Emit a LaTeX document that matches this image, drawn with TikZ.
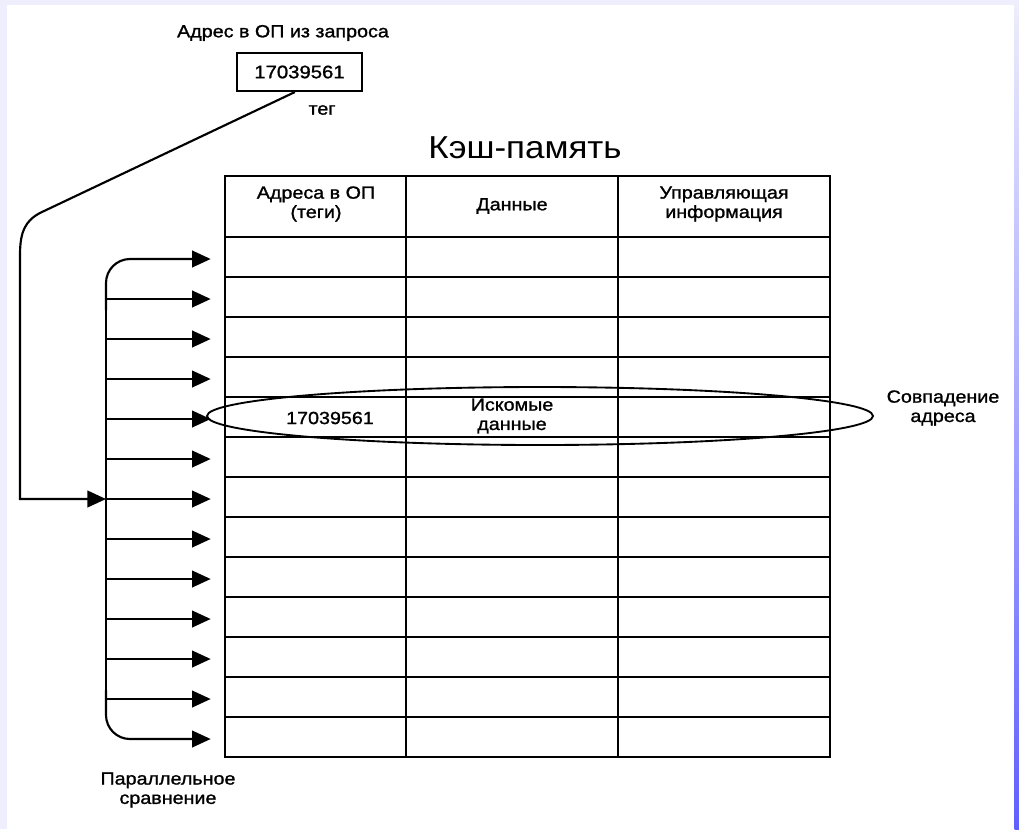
\documentclass[tikz,border=0pt]{standalone}
\usepackage{fontspec}
\setmainfont[FakeStretch=1.1]{Liberation Sans}
\newfontfamily\lblfont[FakeStretch=1.12, FakeBold=1.2]{Liberation Sans}
\usetikzlibrary{arrows.meta,shapes.geometric}

\definecolor{lav}{RGB}{238,238,252}
\definecolor{lavmid}{RGB}{222,222,255}
\definecolor{lavdeep}{RGB}{96,96,255}

\tikzset{
  lbl/.style={font=\lblfont\fontsize{13.2}{14.5}\selectfont, align=center, inner sep=0pt},
  title/.style={font=\fontsize{23.8}{27}\selectfont, inner sep=0pt},
  grid/.style={line width=2pt},
  cell/.style={draw, line width=2pt, minimum width=453.75pt, minimum height=30pt, inner sep=0pt},
  arr/.style={line width=1.6pt, -{Triangle[length=14pt,width=12.5pt]}},
  wire/.style={line width=1.6pt},
}

\begin{document}
\begin{tikzpicture}[x=0.75pt, y=-0.75pt]
  % page frame
  \useasboundingbox (0,0) rectangle (1019,829);
  \fill[white] (0,0) rectangle (1019,829);
  \fill[lav] (0,0) rectangle (1019,5);
  \fill[lav] (0,0) rectangle (7,829);
  \shade[top color=lav, middle color=lavmid, bottom color=lavdeep] (1014.5,0) rectangle (1019,829);

  % requested address
  \node[lbl] (reqlbl) at (283,33) {Адрес в ОП из запроса};
  \node[draw, line width=1.6pt, minimum width=93.75pt, minimum height=28.5pt, inner sep=0pt,
        font=\lblfont\fontsize{13.6}{14.5}\selectfont] (req) at (299.5,72) {17039561};
  \node[lbl] (tag) at (322,110) {тег};

  % cache table
  \node[title] (cache) at (525,148) {Кэш-память};
  \node[cell, minimum height=45.75pt] (hdr) at (527.5,206.5) {};
  \foreach \i in {1,...,13}
    \node[cell] (row\i) at (527.5,217+40*\i) {};
  \draw[grid] (406,176) -- (406,757);
  \draw[grid] (618,176) -- (618,757);

  \node[lbl] (h1) at (316,204) {Адреса в ОП\\(теги)};
  \node[lbl] (h2) at (512,206) {Данные};
  \node[lbl] (h3) at (724,204) {Управляющая\\информация};

  % matching entry
  \node[lbl] (hittag) at (330,418) {17039561};
  \node[lbl] (hitdata) at (512,416) {Искомые\\данные};
  \node[draw, ellipse, line width=1.4pt, inner sep=0pt,
        minimum width=499.5pt, minimum height=43.5pt] (match) at (540,416) {};
  \node[lbl] (matchlbl) at (943,408) {Совпадение\\адреса};

  % parallel comparison fan-out
  \coordinate (trunk) at (106,0);
  \draw[wire] (106,285) -- (106,715);
  \draw[arr, rounded corners=18pt] (106,310) |- ([xshift=-9.75pt,yshift=-1.5pt]row1.west);
  \foreach \i in {2,...,12}
    \draw[arr] ([yshift=-1.5pt]trunk |- row\i.west) -- ([xshift=-9.75pt,yshift=-1.5pt]row\i.west);
  \draw[arr, rounded corners=18pt] (106,690) |- ([xshift=-9.75pt,yshift=-1.5pt]row13.west);

  % tag fed to the comparators
  \draw[arr] ([xshift=-3.5pt]req.south) -- (42,212) .. controls (25,220) and (20,232) .. (20,255)
             -- (20,499) -- ([yshift=-1.5pt]trunk |- row7.west);

  \node[lbl] (par) at (168,790) {Параллельное\\сравнение};
\end{tikzpicture}
\end{document}
